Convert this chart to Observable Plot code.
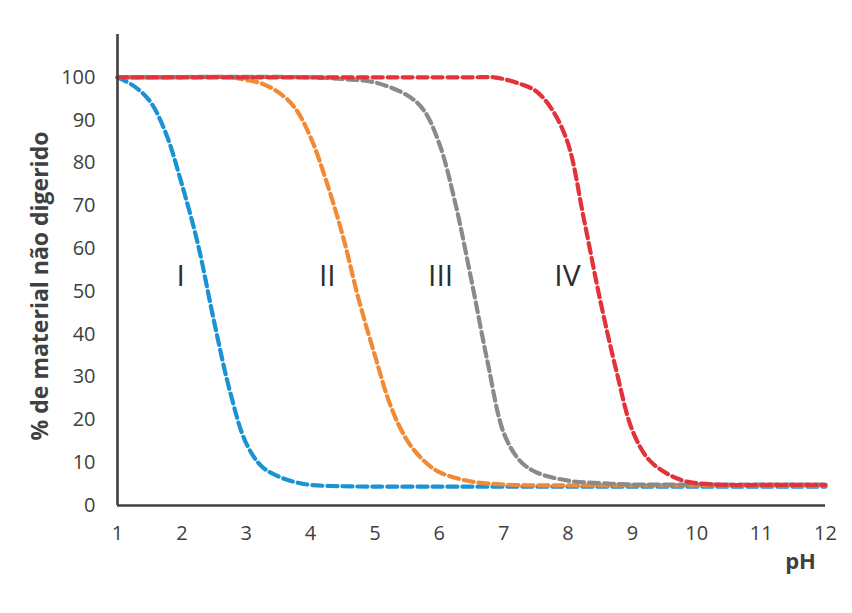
<!DOCTYPE html>
<html>
<head>
<meta charset="utf-8">
<script src="https://cdn.jsdelivr.net/npm/d3@7"></script>
<script src="https://cdn.jsdelivr.net/npm/@observablehq/plot@0.6"></script>
<style>
  html, body { margin: 0; padding: 0; background: #ffffff; }
  #chart { width: 852px; height: 613px; }
</style>
</head>
<body>
<div id="chart"></div>
<script>
// Series I (blue)
const phI  = [1, 1.25, 1.5, 1.75, 2, 2.25, 2.5, 2.75, 3, 3.25, 3.5, 3.75, 4, 4.5, 5, 6, 7, 8, 9, 10, 11, 12];
const valI = [100, 98, 94.5, 87, 75, 61, 43, 26.5, 14.5, 9, 6.8, 5.5, 4.8, 4.5, 4.4, 4.4, 4.4, 4.4, 4.4, 4.4, 4.4, 4.4];
// Series II (orange)
const phII  = [1, 2, 2.75, 3, 3.25, 3.5, 3.75, 4, 4.25, 4.5, 4.75, 5, 5.25, 5.5, 5.75, 6, 6.5, 7, 7.5, 8, 9, 10, 11, 12];
const valII = [100, 100, 100, 99.4, 98.5, 96.5, 93, 86, 75.5, 63, 48, 35, 23, 15.2, 10.6, 7.8, 5.6, 4.9, 4.7, 4.7, 4.7, 4.7, 4.7, 4.7];
// Series III (gray)
const phIII  = [1, 4, 4.5, 5, 5.5, 5.75, 6, 6.25, 6.5, 6.75, 7, 7.25, 7.5, 8, 8.5, 9, 10, 11, 12];
const valIII = [100, 100, 99.6, 98.8, 95.8, 92.5, 84.5, 70.5, 52.5, 33.5, 17, 10.5, 7.8, 5.8, 5.2, 4.9, 4.9, 4.9, 4.9];
// Series IV (red)
const phIV  = [1, 6.5, 6.85, 7, 7.25, 7.5, 7.75, 8, 8.25, 8.5, 8.75, 9, 9.25, 9.5, 9.75, 10, 10.5, 11, 12];
const valIV = [100, 100, 100, 99.6, 98.5, 96.8, 92.5, 84.5, 66.6, 47.9, 31.5, 17.5, 10.8, 7.8, 6, 5.2, 4.8, 4.8, 4.8];

const seriesNames  = ["I", "II", "III", "IV"];
const seriesColors = ["#1b93d3", "#f08a35", "#8a8a8a", "#e3323a"];
const labelPH      = [1.98, 4.26, 6.02, 7.99];
const labelVal     = [53.5, 53.5, 53.5, 53.5];

const xTicks = [1, 2, 3, 4, 5, 6, 7, 8, 9, 10, 11, 12];
const yTicks = [0, 10, 20, 30, 40, 50, 60, 70, 80, 90, 100];
const yTitle = "% de material não digerido";
const xTitle = "pH";

const toRows = (ph, val, s) => ph.map((p, i) => ({ph: p, v: val[i], s}));
const series = [
  toRows(phI, valI, "I"),
  toRows(phII, valII, "II"),
  toRows(phIII, valIII, "III"),
  toRows(phIV, valIV, "IV")
];
const labels = seriesNames.map((n, i) => ({t: n, ph: labelPH[i], v: labelVal[i]}));

const axisColor = "#3f3f3f";

const chart = Plot.plot({
  width: 852,
  height: 613,
  marginLeft: 117,
  marginRight: 27,
  marginTop: 34,
  marginBottom: 108,
  style: {fontFamily: "'Open Sans', sans-serif", color: "#404040", background: "#ffffff"},
  x: {domain: [1, 12]},
  y: {domain: [0, 110]},
  marks: [
    Plot.axisX({ticks: xTicks, tickSize: 0, tickPadding: 20, fontSize: 20, label: null, tickFormat: d => String(d)}),
    Plot.axisY({ticks: yTicks, tickSize: 0, tickPadding: 22, fontSize: 20, label: null, tickFormat: d => String(d)}),
    ...series.map((rows, i) => Plot.line(rows, {
      x: "ph", y: "v",
      stroke: seriesColors[i],
      strokeWidth: 4.2,
      strokeDasharray: "10,5",
      strokeDashoffset: i * 5,
      curve: "catmull-rom"
    })),
    Plot.ruleX([1], {stroke: axisColor, strokeWidth: 2.6}),
    Plot.ruleY([0], {stroke: axisColor, strokeWidth: 2.6}),
    Plot.text(labels, {x: "ph", y: "v", text: "t", fontSize: 30, fill: "#2d2d2d", textAnchor: "middle"}),
    Plot.text([yTitle], {frameAnchor: "left", dx: -77, dy: 16, rotate: -90, fontSize: 23, fontWeight: "bold", fill: "#404040", textAnchor: "middle"}),
    Plot.text([xTitle], {frameAnchor: "bottom-right", dx: -25, dy: 63, fontSize: 22, fontWeight: "bold", fill: "#404040", textAnchor: "middle"})
  ]
});
document.getElementById("chart").appendChild(chart);
</script>
</body>
</html>
